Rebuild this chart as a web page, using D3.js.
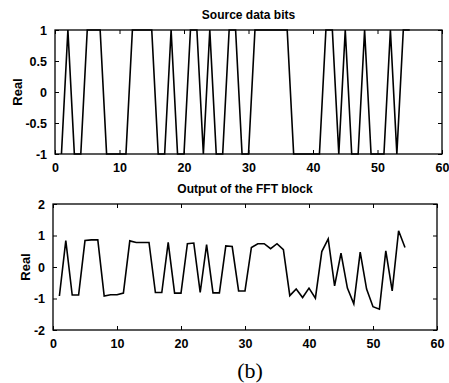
<!DOCTYPE html>
<html>
<head>
<meta charset="utf-8">
<script src="https://cdn.jsdelivr.net/npm/d3@7"></script>
<style>
  body { margin: 0; background: #fff; }
  text { font-family: "Liberation Sans", Arial, sans-serif; font-weight: bold; fill: #000; }
</style>
</head>
<body>
<div id="chart"></div>
<script>
// source bits, sample index 1..55
const bitIndex = d3.range(1, 56);
const bits = [-1, 1, -1, -1, 1, 1, 1, -1, -1, -1, -1, 1, 1, 1, 1, -1, -1, 1, -1, -1,
  1, 1, -1, 1, -1, -1, 1, 1, -1, -1, 1, 1, 1, 1, 1, 1, -1, -1, -1, -1,
  -1, 1, 1, -1, 1, -1, -1, 1, -1, -1, -1, 1, -1, 1, 1];

// real part of the FFT output
const fftReal = [-0.92, 0.84, -0.89, -0.89, 0.84, 0.86, 0.86, -0.92, -0.88, -0.88,
  -0.83, 0.83, 0.78, 0.78, 0.78, -0.81, -0.81, 0.78, -0.83, -0.83,
  0.74, 0.76, -0.81, 0.71, -0.82, -0.82, 0.67, 0.65, -0.76, -0.76,
  0.62, 0.74, 0.74, 0.58, 0.74, 0.55, -0.91, -0.70, -0.97, -0.67,
  -0.99, 0.49, 0.89, -0.60, 0.44, -0.67, -1.17, 0.47, -0.70, -1.26,
  -1.34, 0.51, -0.76, 1.15, 0.62];

const xTicks = [0, 10, 20, 30, 40, 50, 60];
const topYTicks = [-1, -0.5, 0, 0.5, 1];
const botYTicks = [-2, -1, 0, 1, 2];

const width = 449, height = 383;

const svg = d3.select("#chart").append("svg")
  .attr("width", width)
  .attr("height", height);

function panel(opts) {
  const x = d3.scaleLinear().domain([0, 60]).range([opts.left, opts.right]);
  const y = d3.scaleLinear().domain(opts.yDomain).range([opts.bottom, opts.top]);

  const g = svg.append("g");

  // ticks inward like matlab, on all four sides
  g.append("g")
    .attr("transform", "translate(0," + opts.bottom + ")")
    .call(d3.axisBottom(x).tickValues(xTicks).tickSize(-4).tickPadding(9).tickFormat(d3.format("d")));
  g.append("g")
    .attr("transform", "translate(0," + opts.top + ")")
    .call(d3.axisTop(x).tickValues(xTicks).tickSize(-4).tickFormat(""));
  g.append("g")
    .attr("transform", "translate(" + opts.left + ",0)")
    .call(d3.axisLeft(y).tickValues(opts.yTicks).tickSize(-4).tickPadding(8).tickFormat(d => d));
  g.append("g")
    .attr("transform", "translate(" + opts.right + ",0)")
    .call(d3.axisRight(y).tickValues(opts.yTicks).tickSize(-4).tickFormat(""));

  g.selectAll(".domain").remove();
  g.selectAll(".tick line").attr("stroke", "#000").attr("stroke-width", 1);
  g.selectAll(".tick text").style("font-size", "12.5px").style("font-weight", "bold")
    .style("font-family", "'Liberation Sans', Arial, sans-serif").attr("fill", "#000");

  const line = d3.line()
    .x((d, i) => x(bitIndex[i]))
    .y(d => y(d));

  g.append("path")
    .datum(opts.values)
    .attr("fill", "none")
    .attr("stroke", "#000")
    .attr("stroke-width", 1.6)
    .attr("stroke-linejoin", "miter")
    .attr("d", line);

  g.append("rect")
    .attr("x", opts.left)
    .attr("y", opts.top)
    .attr("width", opts.right - opts.left)
    .attr("height", opts.bottom - opts.top)
    .attr("fill", "none")
    .attr("stroke", "#000")
    .attr("stroke-width", 1.3);

  g.append("text")
    .attr("x", (opts.left + opts.right) / 2)
    .attr("y", opts.top - 11)
    .attr("text-anchor", "middle")
    .style("font-size", "12px")
    .text(opts.title);

  g.append("text")
    .attr("transform", "translate(" + opts.labelX + "," + ((opts.top + opts.bottom) / 2) + ") rotate(-90)")
    .attr("text-anchor", "middle")
    .style("font-size", "13px")
    .text("Real");
}

panel({
  left: 55, right: 442, top: 30, bottom: 154,
  yDomain: [-1, 1], yTicks: topYTicks,
  values: bits, title: "Source data bits", labelX: 22
});

panel({
  left: 53, right: 437, top: 204, bottom: 330,
  yDomain: [-2, 2], yTicks: botYTicks,
  values: fftReal, title: "Output of the FFT block", labelX: 30
});

svg.append("text")
  .attr("x", 250)
  .attr("y", 378)
  .attr("text-anchor", "middle")
  .style("font-family", "'Liberation Serif', 'Times New Roman', serif")
  .style("font-weight", "normal")
  .style("font-size", "22px")
  .text("(b)");
</script>
</body>
</html>
